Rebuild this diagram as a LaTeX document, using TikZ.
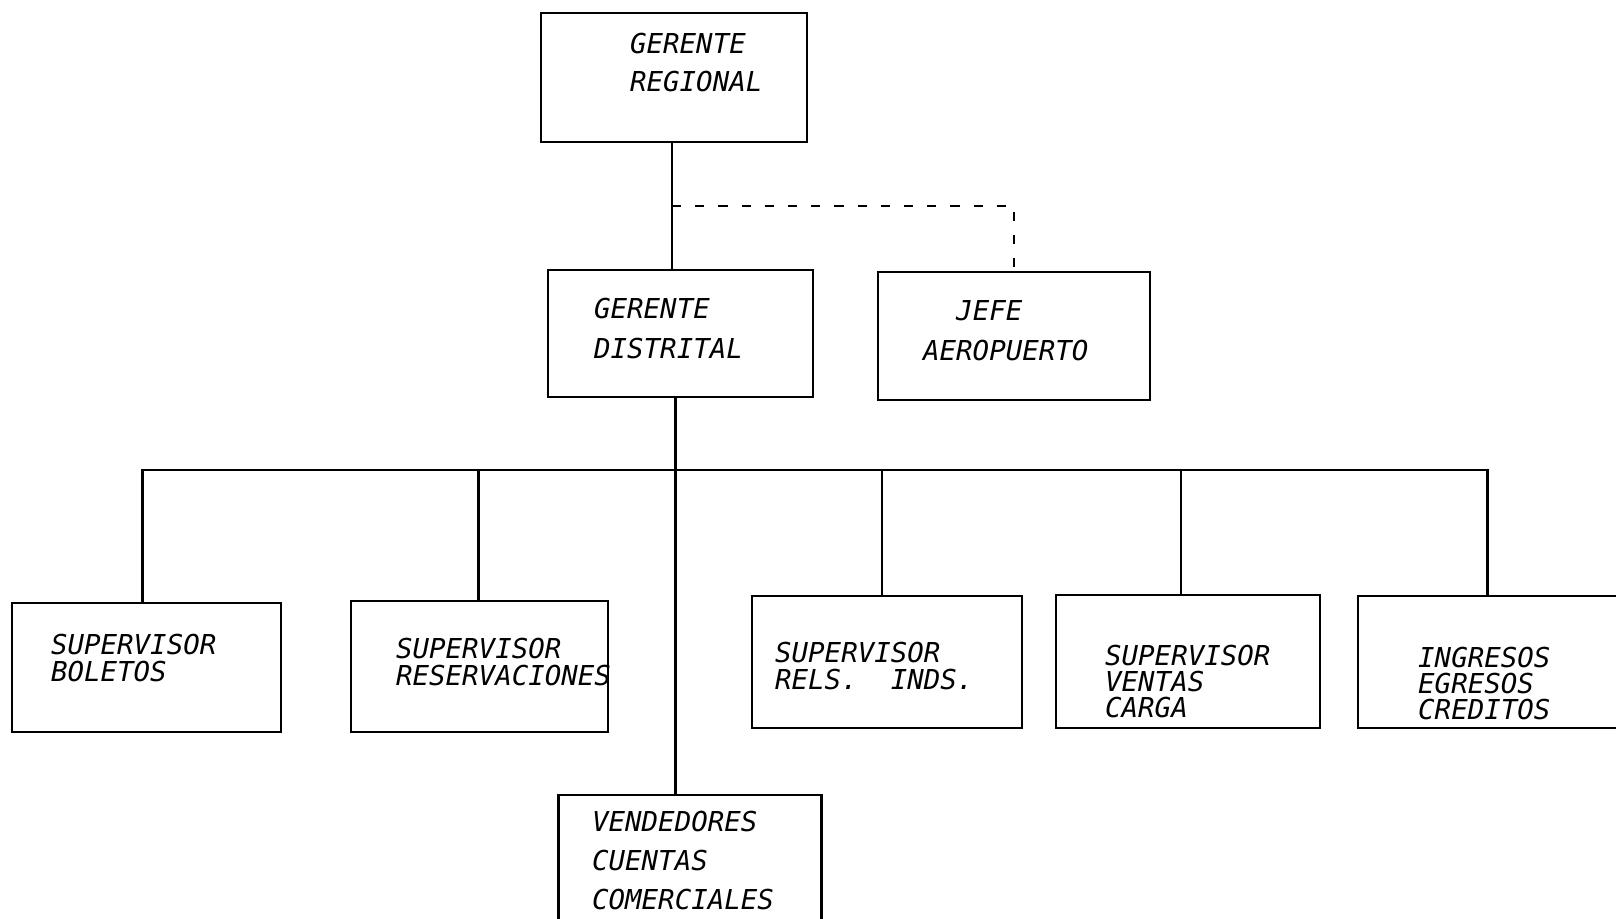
\documentclass[tikz,border=0pt]{standalone}
\usepackage{fontspec}
\newfontfamily\boxfont{DejaVu Sans Mono}
\usetikzlibrary{calc}

\begin{document}
\begin{tikzpicture}[line width=0.7pt,
    box/.style={draw, rectangle, inner sep=0pt},
    txt/.style={font=\boxfont\itshape\fontsize{7.8pt}{#1}\selectfont, align=left, inner sep=0pt, anchor=north west},
    txt/.default=7.7pt]
    \useasboundingbox (0,0) rectangle (16.16,9.19);
    \clip (0,0) rectangle (16.16,9.19);

    % Boxes
    \node[box, minimum width=2.66cm, minimum height=1.29cm] (gr) at (6.74, 8.415) {};
    \node[box, minimum width=2.65cm, minimum height=1.27cm] (gd) at (6.805, 5.855) {};
    \node[box, minimum width=2.72cm, minimum height=1.28cm] (ja) at (10.14, 5.83) {};
    \node[box, minimum width=2.69cm, minimum height=1.29cm] (sb) at (1.465, 2.515) {};
    \node[box, minimum width=2.57cm, minimum height=1.31cm] (sr) at (4.795, 2.525) {};
    \node[box, minimum width=2.70cm, minimum height=1.32cm] (sl) at (8.87, 2.57) {};
    \node[box, minimum width=2.64cm, minimum height=1.33cm] (sv) at (11.88, 2.575) {};
    \node[box, minimum width=2.67cm, minimum height=1.32cm] (si) at (14.915, 2.57) {};
    \node[box, minimum width=2.63cm, minimum height=1.30cm] (vc) at (6.90, 0.59) {};

    % Box texts
    \node[txt=10.9pt] (gr-t) at (6.29, 8.87) {GERENTE\\REGIONAL};
    \node[txt=11.4pt] (gd-t) at (5.93, 6.22) {GERENTE\\DISTRITAL};
    \node[txt=11.4pt] (ja-t) at (9.22, 6.20) {\phantom{AE}JEFE\\AEROPUERTO};
    \node[txt] (sb-t) at (0.50, 2.86) {SUPERVISOR\\BOLETOS};
    \node[txt] (sr-t) at (3.95, 2.82) {SUPERVISOR\\RESERVACIONES};
    \node[txt] (sl-t) at (7.74, 2.78) {SUPERVISOR\\RELS.\ \ INDS.};
    \node[txt=7.4pt] (sv-t) at (11.04, 2.75) {SUPERVISOR\\VENTAS\\CARGA};
    \node[txt=7.4pt] (si-t) at (14.17, 2.73) {INGRESOS\\EGRESOS\\CREDITOS};
    \node[txt=11.1pt] (vc-t) at (5.91, 1.09) {VENDEDORES\\CUENTAS\\COMERCIALES};

    % Lines
    \draw ([xshift=-0.02cm]gr.south) -- ([xshift=-0.02cm]gr.south |- gd.north);
    \coordinate (mid) at ($([xshift=-0.02cm]gr.south)!0.5!([xshift=-0.02cm]gr.south |- gd.north)$);
    \draw[dash pattern=on 2.6pt off 4pt] (mid) -| (ja.north);
    \draw ([xshift=-0.05cm]gd.south) -- ([xshift=-0.05cm]gd.south |- vc.north);

    \coordinate (bus) at (0, 4.49);
    \draw ([xshift=-0.04cm]sb.north) |- ([xshift=-0.04cm]si.north |- bus) -- ([xshift=-0.04cm]si.north);
    \foreach \n/\dx in {sr/-0.01, sl/-0.05, sv/-0.07}
        \draw ([xshift=\dx cm]\n.north) -- ([xshift=\dx cm]\n.north |- bus);
\end{tikzpicture}
\end{document}
